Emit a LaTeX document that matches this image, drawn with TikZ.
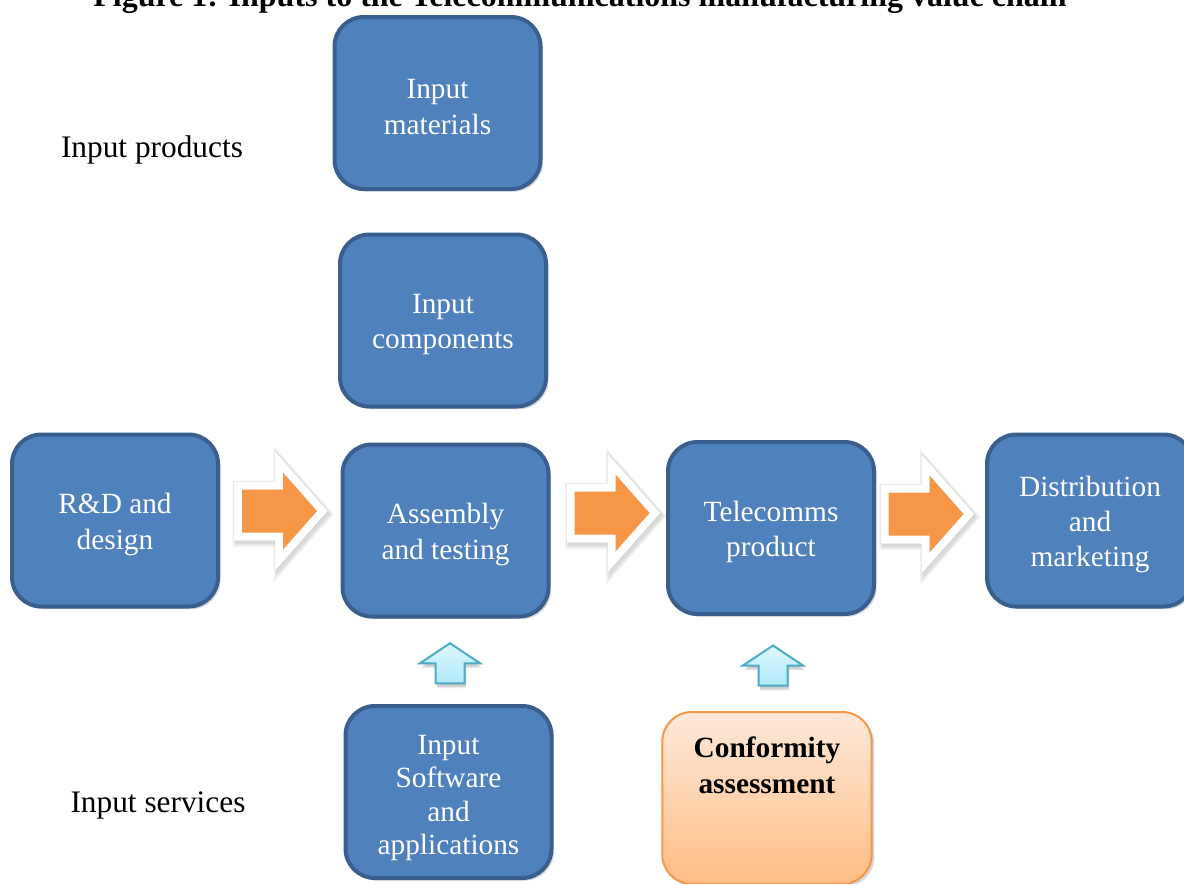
\documentclass[tikz,border=0pt]{standalone}
\usepackage{fontspec}
\setmainfont{Liberation Serif}
\usetikzlibrary{shadows,calc}
\definecolor{boxfill}{HTML}{4F81BD}
\definecolor{boxline}{HTML}{3A5F8F}
\definecolor{orangefill}{HTML}{F79646}
\definecolor{peachtop}{HTML}{FDE9D9}
\definecolor{peachbot}{HTML}{FFBD85}
\definecolor{peachline}{HTML}{F79646}
\definecolor{cyantop}{HTML}{DDF7FD}
\definecolor{cyanbot}{HTML}{B0E9F8}
\definecolor{cyanline}{HTML}{4BACC6}
\begin{document}
\begin{tikzpicture}[x=0.75pt,y=-0.75pt,
  boxtext/.style={font=\fontsize{22}{26.5}\selectfont, align=center, text=white, inner sep=0pt},
  bluebox/.style={rectangle, rounded corners=22pt, fill=boxfill, draw=boxline,
    line width=3pt, minimum width=154.5pt, minimum height=129pt,
    drop shadow={opacity=0.3, shadow xshift=2pt, shadow yshift=-2pt},
    label={[boxtext, yshift=-3pt]center:#1}},
  confbox/.style={rectangle, rounded corners=22pt, top color=peachtop, bottom color=peachbot,
    draw=peachline, line width=1.5pt, minimum width=157pt, minimum height=129pt,
    drop shadow={opacity=0.3, shadow xshift=2pt, shadow yshift=-2pt}},
  sidelabel/.style={font=\fontsize{23.5}{28}\selectfont},
  orangearrow/.pic={
    \foreach \w/\o in {17/0.04,15/0.05,13/0.06} {
      \path[shift={(2,3)}, fill=black, draw=black, opacity=\o, line width=\w pt, line join=miter]
        (-37.5,-21.5) -- (3.5,-21.5) -- (3.5,-38.5) -- (37.5,0) -- (3.5,38.5) -- (3.5,21.5) -- (-37.5,21.5) -- cycle;
    }
    \path[draw=black, opacity=0.08, line width=13pt, line join=miter]
      (-37.5,-21.5) -- (3.5,-21.5) -- (3.5,-38.5) -- (37.5,0) -- (3.5,38.5) -- (3.5,21.5) -- (-37.5,21.5) -- cycle;
    \path[fill=white, draw=white, line width=12pt, line join=miter]
      (-37.5,-21.5) -- (3.5,-21.5) -- (3.5,-38.5) -- (37.5,0) -- (3.5,38.5) -- (3.5,21.5) -- (-37.5,21.5) -- cycle;
    \path[fill=orangefill]
      (-37.5,-21.5) -- (3.5,-21.5) -- (3.5,-38.5) -- (37.5,0) -- (3.5,38.5) -- (3.5,21.5) -- (-37.5,21.5) -- cycle;
  },
  uparrow/.pic={
    \foreach \s/\o in {3/0.08,4/0.08,5/0.06} {
      \path[shift={(1.5,\s)}, fill=black, opacity=\o]
        (0,0) -- (30,20) -- (14.5,20) -- (14.5,40) -- (-14.5,40) -- (-14.5,20) -- (-30,20) -- cycle;
    }
    \path[top color=cyantop, bottom color=cyanbot, draw=cyanline, line width=1.5pt, line join=miter]
      (0,0) -- (30,20) -- (14.5,20) -- (14.5,40) -- (-14.5,40) -- (-14.5,20) -- (-30,20) -- cycle;
  }
]
\useasboundingbox (0,0) rectangle (1184,883);
\clip (0,0) rectangle (1184,883);

% title (cut by the top edge)
\node[font=\bfseries\fontsize{24}{28}\selectfont, anchor=base, inner sep=0pt] (title) at (580,6)
  {Figure 1: Inputs to the Telecommunications manufacturing value chain};

% side labels
\node[sidelabel] (prodlab) at (152,150) {Input products};
\node[sidelabel] (servlab) at (158,805) {Input services};

% blue boxes
\node[bluebox={Input\\materials}]         (mat)  at (437.5,103)   {};
\node[bluebox={Input\\components}]        (comp) at (443,320.5)   {};
\node[bluebox={R\&D and\\design}]         (rd)   at (115,520.5)   {};
\node[bluebox={Assembly\\and testing}]    (asm)  at (445.5,530.5) {};
\node[bluebox={Telecomms\\product}]       (tel)  at (771,528)     {};
\node[bluebox={Distribution\\and\\marketing}] (dist) at (1090,520.5) {};
\node[bluebox={}, label={[boxtext, font=\fontsize{22}{25.2}\selectfont, yshift=-4.5pt]center:Input\\Software\\and\\applications}]
  (sw) at (448.5,792) {};

% conformity assessment
\node[confbox,
  label={[anchor=north, yshift=-19.5pt, inner sep=0pt, align=center,
          font=\bfseries\fontsize{22}{26.5}\selectfont]north:Conformity\\assessment}]
  (conf) at (767,798) {};

% orange flow arrows between the chain stages
\pic at (279.5,511) {orangearrow};
\pic at (612,513) {orangearrow};
\pic at (926,514) {orangearrow};

% input arrows
\pic at ($(asm.south)!0.5!(sw.north)+(3,-18)$) {uparrow};
\pic at ($(tel.south)!0.5!(conf.north)+(4,-18)$) {uparrow};
\end{tikzpicture}
\end{document}
